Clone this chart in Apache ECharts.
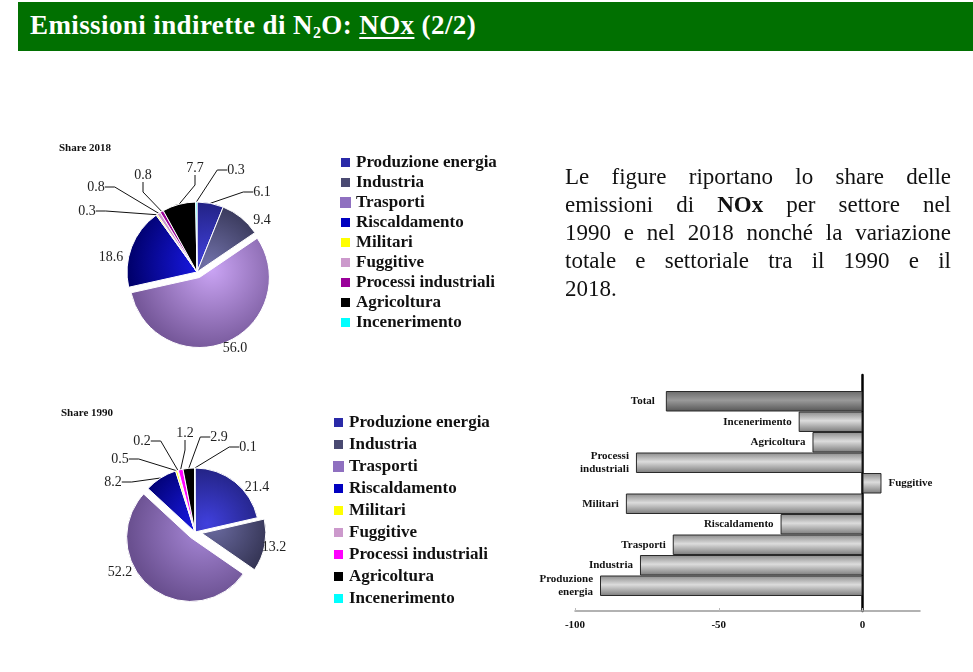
<!DOCTYPE html>
<html>
<head>
<meta charset="utf-8">
<script src="https://cdn.jsdelivr.net/npm/echarts@6/dist/echarts.min.js"></script>
<style>
  html, body { margin: 0; padding: 0; background: #fff; }
  #wrap { position: relative; width: 973px; height: 672px; overflow: hidden; }
  #titlebar { position: absolute; left: 18px; top: 2px; width: 955px; height: 49px; background: #017001; }
  #titlebar span.t { position: absolute; left: 12px; top: 8px; font-family: "Liberation Serif", serif; font-weight: bold; font-size: 27px; letter-spacing: 0.4px; color: #fff; white-space: nowrap; }
  #titlebar u { text-decoration: underline; text-decoration-thickness: 2px; text-underline-offset: 3px; }
  #titlebar sub { font-size: 16px; vertical-align: -4px; line-height: 0; }
  #para { position: absolute; left: 565px; top: 163px; width: 386px; font-family: "Liberation Serif", serif; font-size: 23px; line-height: 28px; color: #111; }
  #para span { display: block; text-align: justify; text-align-last: justify; white-space: nowrap; }
  #para span.last { text-align-last: left; }
  #chart { position: absolute; left: 0; top: 0; width: 973px; height: 672px; }
</style>
</head>
<body>
<div id="wrap">
  <div id="chart"></div>
  <div id="titlebar"><span class="t">Emissioni indirette di N<sub>2</sub>O: <u>NOx</u> (2/2)</span></div>
  <div id="para">
    <span>Le figure riportano lo share delle</span>
    <span>emissioni di <b>NOx</b> per settore nel</span>
    <span>1990 e nel 2018 nonché la variazione</span>
    <span>totale e settoriale tra il 1990 e il</span>
    <span class="last">2018.</span>
  </div>
</div>
<script>
// ---- data ----
const sectors = ['Produzione energia','Industria','Trasporti','Riscaldamento','Militari','Fuggitive','Processi industriali','Agricoltura','Incenerimento'];
const share2018 = [6.1, 9.4, 56.0, 18.6, 0.3, 0.8, 0.8, 7.7, 0.3];
const share1990 = [21.4, 13.2, 52.2, 8.2, 0.5, 0.2, 1.2, 2.9, 0.1];
const barCategories = ['Produzione\nenergia','Industria','Trasporti','Riscaldamento','Militari','Fuggitive','Processi\nindustriali','Agricoltura','Incenerimento','Total'];
const variation = [-91.3, -77.4, -66.0, -28.5, -82.3, 6.6, -78.8, -17.4, -22.2, -68.4];
const xTicks = [-100, -50, 0];

// ---- styles / layout ----
const serif = '"Liberation Serif", serif';
const lightDark2018 = [
  ['#4040dd', '#1a1a6a'],
  ['#7070a8', '#262640'],
  ['#caa4f4', '#76589a'],
  ['#1c1cf4', '#00006c'],
  ['#ffff00', '#ffff00'],
  ['#cc99cc', '#cc99cc'],
  ['#990099', '#990099'],
  ['#000000', '#000000'],
  ['#00ffff', '#00ffff']
];
const lightDark1990 = [
  ['#4040dd', '#1a1a6a'],
  ['#6a6aa0', '#262640'],
  ['#a888d8', '#6a5090'],
  ['#1c1cf4', '#00006c'],
  ['#ffff00', '#ffff00'],
  ['#cc99cc', '#cc99cc'],
  ['#ff00ff', '#ff00ff'],
  ['#000000', '#000000'],
  ['#00ffff', '#00ffff']
];
const legend2018Colors = ['#2a2aa8','#4a4a72','#8f70c0','#0000c0','#ffff00','#cc99cc','#990099','#000000','#00ffff'];
const legend1990Colors = ['#2a2aa8','#4a4a72','#8f70c0','#0000c0','#ffff00','#cc99cc','#ff00ff','#000000','#00ffff'];

// label placement (text centre) and whether a leader line is drawn
const labelPos2018 = [[262,192],[262,220],[235,348],[111,257],[87,211],[96,187],[143,175],[195,168],[236,170]];
const labelLine2018 = [true, false, false, false, true, true, true, true, true];
const labelPos1990 = [[257,487],[274,547],[120,572],[113,482],[120,459],[142,441],[185,433],[219,437],[248,447]];
const labelLine1990 = [false, false, false, true, true, true, true, true, true];

const c18 = [197, 272], r18 = 70;
const c90 = [195, 532], r90 = 64;

function grad(pal, i, cx, cy, r) {
  const c = pal[i];
  if (c[0] === c[1]) return c[0];
  return { type: 'radial', x: cx + 12, y: cy - 8, r: r * 1.15, global: true,
    colorStops: [{ offset: 0, color: c[0] }, { offset: 1, color: c[1] }] };
}

// builds a pie whose chosen slices are pulled out along their mid angle
function buildPie(values, center, r, explode, offset, pal, labelPos, lineShow) {
  const total = values.reduce((a, b) => a + b, 0);
  const mids = [];
  let acc = 0;
  values.forEach(v => { mids.push((acc + v / 2) / total * 2 * Math.PI); acc += v; });
  const layout = p => {
    const q = labelPos[p.dataIndex];
    return { x: q[0], y: q[1], align: 'center', verticalAlign: 'middle' };
  };
  const mk = (visibleSet, cen) => ({
    type: 'pie', center: cen, radius: r, startAngle: 90, clockwise: true,
    avoidLabelOverlap: false, selectedMode: false, legendHoverLink: false,
    emphasis: { disabled: true },
    itemStyle: { borderColor: '#fff', borderWidth: 1 },
    label: { show: true, position: 'outside', formatter: p => p.value.toFixed(1), fontFamily: serif, fontSize: 14, color: '#222' },
    labelLine: { length: 12, length2: 10, lineStyle: { color: '#111', width: 1 } },
    labelLayout: layout,
    data: values.map((v, i) => {
      const vis = visibleSet(i);
      return {
        name: sectors[i], value: v,
        itemStyle: vis ? { color: grad(pal, i, cen[0], cen[1], r) }
                       : { color: 'rgba(0,0,0,0)', borderWidth: 0 },
        label: { show: vis },
        labelLine: { show: vis && lineShow[i] }
      };
    })
  });
  const list = [mk(i => explode.indexOf(i) < 0, center)];
  explode.forEach(e => {
    const cen = [center[0] + Math.sin(mids[e]) * offset, center[1] - Math.cos(mids[e]) * offset];
    list.push(mk(i => i === e, cen));
  });
  return list;
}

const legendText = { fontFamily: serif, fontWeight: 'bold', fontSize: 17, color: '#111', lineHeight: 17 };

const barSeries = {
  type: 'bar', xAxisIndex: 0, yAxisIndex: 0, barCategoryGap: '0%',
  data: variation.map((v, i) => ({
    value: v,
    itemStyle: { color: { type: 'linear', x: 0, y: 0, x2: 0, y2: 1, colorStops: i === barCategories.length - 1
      ? [{ offset: 0, color: '#6a6a6a' }, { offset: 0.45, color: '#9a9a9a' }, { offset: 1, color: '#555' }]
      : [{ offset: 0, color: '#8a8a8a' }, { offset: 0.45, color: '#dcdcdc' }, { offset: 1, color: '#7a7a7a' }] } },
    label: { position: v < 0 ? 'left' : 'right', distance: i === barCategories.length - 1 ? 11 : 7 }
  })),
  itemStyle: { borderColor: '#2a2a2a', borderWidth: 1 },
  label: { show: true, formatter: p => barCategories[p.dataIndex], fontFamily: serif, fontWeight: 'bold', fontSize: 11, color: '#111', lineHeight: 13 },
  emphasis: { disabled: true }
};

const option = {
  animation: false,
  title: [
    { text: 'Share 2018', left: 54, top: 138, textStyle: { fontFamily: serif, fontWeight: 'bold', fontSize: 11, color: '#111' } },
    { text: 'Share 1990', left: 56, top: 403, textStyle: { fontFamily: serif, fontWeight: 'bold', fontSize: 11, color: '#111' } }
  ],
  legend: [
    { orient: 'vertical', left: 339, top: 154, icon: 'rect', itemWidth: 11, itemHeight: 11, itemGap: 3,
      selectedMode: false, textStyle: legendText, padding: 0,
      data: sectors.map((s, i) => ({ name: s, itemStyle: { color: legend2018Colors[i] } })) },
    { orient: 'vertical', left: 332, top: 414, icon: 'rect', itemWidth: 11, itemHeight: 11, itemGap: 5,
      selectedMode: false, textStyle: legendText, padding: 0,
      data: sectors.map((s, i) => ({ name: s, itemStyle: { color: legend1990Colors[i] } })) }
  ],
  grid: [
    { left: 575, right: 53, top: 391, bottom: 76 },
    { left: 575, right: 53, top: 375, bottom: 61 }
  ],
  xAxis: [
    { type: 'value', gridIndex: 0, min: -100, max: 20, interval: 50, offset: 15,
      axisLine: { show: true, lineStyle: { color: '#999', width: 1.5 } },
      axisTick: { show: true, length: 3, inside: true, lineStyle: { color: '#bbb' } },
      splitLine: { show: false },
      axisLabel: { showMaxLabel: false, fontFamily: serif, fontWeight: 'bold', fontSize: 11, color: '#111', margin: 9,
        formatter: v => (xTicks.indexOf(v) >= 0 ? String(v) : '') } },
    { type: 'value', gridIndex: 1, min: -100, max: 20, show: false }
  ],
  yAxis: [
    { type: 'category', gridIndex: 0, data: barCategories, axisLine: { show: false }, axisTick: { show: false }, axisLabel: { show: false } },
    { type: 'value', gridIndex: 1, min: 0, max: 1, axisLine: { show: true, onZero: true, lineStyle: { color: '#000', width: 2.5 } },
      axisTick: { show: false }, axisLabel: { show: false }, splitLine: { show: false } }
  ],
  series: [].concat(
    buildPie(share2018, c18, r18, [2], 6, lightDark2018, labelPos2018, labelLine2018),
    buildPie(share1990, c90, r90, [1, 2], 7, lightDark1990, labelPos1990, labelLine1990),
    [barSeries]
  )
};

const chart = echarts.init(document.getElementById('chart'));
chart.setOption(option);
</script>
</body>
</html>
